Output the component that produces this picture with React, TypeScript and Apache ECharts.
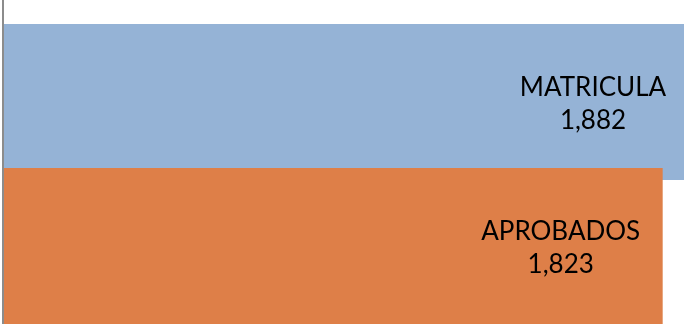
import React, { useEffect, useRef } from "react";
import * as echarts from "echarts";

const categories = ["MATRICULA", "APROBADOS"];
const values = [1882, 1823];
const colors = ["#95B3D6", "#DE7F48"];
const labelDistances = [91, 102];

export default function App() {
  const ref = useRef<HTMLDivElement>(null);
  useEffect(() => {
    const chart = echarts.init(ref.current!, null, { renderer: "svg" });
    chart.setOption({
      animation: false,
      grid: { left: 4, right: 9, top: 30, bottom: 8 },
      xAxis: {
        type: "value",
        min: 0,
        max: 1882,
        show: false,
      },
      yAxis: {
        type: "category",
        data: categories,
        inverse: true,
        axisLine: { show: false },
        axisTick: { show: false },
        axisLabel: { show: false },
      },
      graphic: [
        {
          type: "line",
          shape: { x1: 3, y1: 0, x2: 3, y2: 324 },
          style: { stroke: "#8c8c8c", lineWidth: 2 },
          z: 10,
        },
      ],
      series: [
        {
          type: "bar",
          clip: false,
          barWidth: 156,
          data: values.map((v, i) => ({
            value: v,
            itemStyle: { color: colors[i] },
            label: { distance: labelDistances[i] },
          })),
          label: {
            show: true,
            position: "insideRight",
            align: "center",
            verticalAlign: "middle",
            color: "#000",
            fontFamily: "'URW Gothic', 'Century Gothic', 'Lato', sans-serif",
            fontSize: 26,
            lineHeight: 33,
            formatter: (p: any) =>
              p.name + "\n" + Number(p.value).toLocaleString("en-US"),
          },
        },
      ],
    });
    return () => chart.dispose();
  }, []);
  return (
    <div
      ref={ref}
      style={{ position: "fixed", left: 0, top: 0, width: 693, height: 326 }}
    />
  );
}
